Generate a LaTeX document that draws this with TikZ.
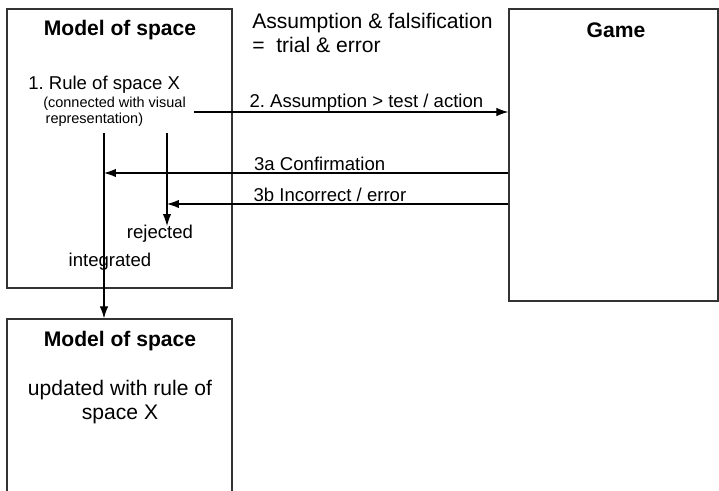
\documentclass[tikz,border=0pt]{standalone}
\usepackage{fontspec}
\setmainfont{Liberation Sans}
\usetikzlibrary{arrows.meta, positioning, fit}
\frenchspacing
\tikzset{
    frame/.style={draw=black!80, line width=0.9pt, inner sep=0pt},
    arrow/.style={line width=0.8pt, -{Latex[length=8.5pt, width=6pt]}},
    title/.style={font=\fontsize{15}{17}\selectfont\bfseries},
    txt/.style={font=\fontsize{13.2}{15}\selectfont, inner sep=0pt},
    big/.style={font=\fontsize{15}{17}\selectfont, inner sep=0pt},
    small/.style={font=\fontsize{10.3}{11.4}\selectfont, inner sep=0pt},
}

\begin{document}
\begin{tikzpicture}[x=0.025cm, y=-0.025cm]
    \useasboundingbox (0,0) rectangle (719,491);

    % boxes
    \node[frame, fit={(7,9) (232,288)}]   (model)  {};
    \node[frame, fit={(7,319) (232,500)}] (update) {};
    \node[frame, fit={(509,9) (718,301)}] (game)   {};

    \node[title] (modelTitle)  at (120,30)  {Model of space};
    \node[title] (updateTitle) at (120,341) {Model of space};
    \node[title] (gameTitle)   at (616,30)  {Game};

    % texts
    \node[txt, anchor=west] (rule) at (28,85) {1. Rule of space X};
    \node[small, anchor=north west, align=left] (note) at (43,97)
        {(connected with visual\\\,representation)};
    \node[big, anchor=north west, align=left] (trial) at (252,13)
        {Assumption \& falsification\\=\ \ trial \& error};
    \node[big, align=center] (updText) at (120,402)
        {updated with rule of\\space X};

    % connector ends
    \coordinate (out)    at (194,112);
    \coordinate (conf)   at (104,173);
    \coordinate (err)    at (167,204);
    \coordinate (intTop) at (104,133);
    \coordinate (rejTop) at (167,133);
    \coordinate (rejEnd) at (167,226);

    \draw[arrow] (out) -- (out -| game.west)
        node[txt, pos=0.175, anchor=base west, yshift=3pt] (step2) {2. Assumption > test / action};
    \draw[arrow] (conf -| game.west) -- (conf)
        node[txt, pos=0.63, anchor=base west, yshift=2pt] (step3a) {3a Confirmation};
    \draw[arrow] (err -| game.west) -- (err)
        node[txt, pos=0.748, anchor=base west, yshift=1.5pt] (step3b) {3b Incorrect / error};
    \draw[arrow] (intTop) -- (intTop |- update.north);
    \draw[arrow] (rejTop) -- (rejEnd);

    \node[txt] (rejected)   at (160,234) {rejected};
    \node[txt] (integrated) at (110,262) {integrated};
\end{tikzpicture}
\end{document}
